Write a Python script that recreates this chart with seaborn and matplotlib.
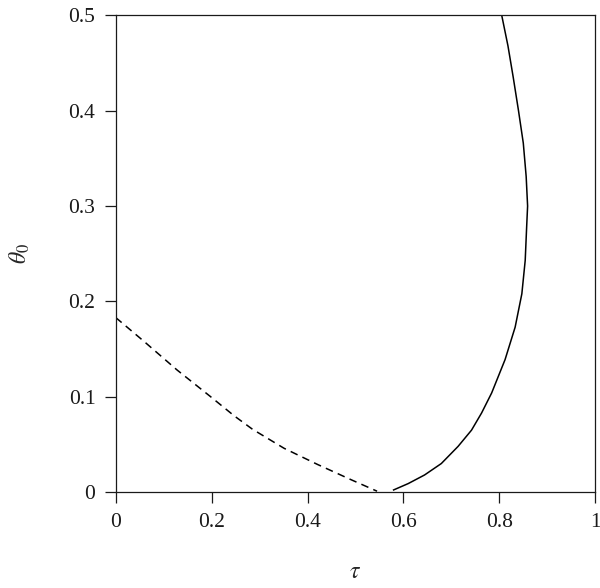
import numpy as np
import matplotlib
matplotlib.use("Agg")
import matplotlib.pyplot as plt
import seaborn as sns

# dashed branch: theta_0 vs tau
tau_dashed = [0.0, 0.059, 0.128, 0.198, 0.247, 0.285, 0.351, 0.421, 0.491, 0.545]
theta_dashed = [0.183, 0.158, 0.128, 0.100, 0.080, 0.066, 0.046, 0.029, 0.013, 0.001]

# solid branch (turns back on itself, so drawn in path order)
tau_solid = [0.578, 0.610, 0.644, 0.679, 0.714, 0.742, 0.763, 0.784, 0.812,
             0.833, 0.847, 0.854, 0.857, 0.859, 0.856, 0.850, 0.840, 0.829,
             0.818, 0.805]
theta_solid = [0.002, 0.009, 0.018, 0.030, 0.048, 0.065, 0.083, 0.104, 0.139,
               0.173, 0.208, 0.243, 0.278, 0.300, 0.331, 0.366, 0.400, 0.435,
               0.468, 0.500]

x_ticks = [0, 0.2, 0.4, 0.6, 0.8, 1]
x_labels = ["0", "0.2", "0.4", "0.6", "0.8", "1"]
y_ticks = [0, 0.1, 0.2, 0.3, 0.4, 0.5]
y_labels = ["0", "0.1", "0.2", "0.3", "0.4", "0.5"]

sns.set_theme(style="ticks")
plt.rcParams["font.family"] = ["Liberation Serif", "DejaVu Serif"]
plt.rcParams["mathtext.fontset"] = "stix"

fig = plt.figure(figsize=(6, 5.88), dpi=100)
ax = fig.add_axes([0.193, 0.163, 0.799, 0.811])

sns.lineplot(x=tau_dashed, y=theta_dashed, sort=False, estimator=None, ax=ax,
             color="black", linewidth=1.1)
ax.lines[-1].set_dashes((5, 3.5))
sns.lineplot(x=tau_solid, y=theta_solid, sort=False, estimator=None, ax=ax,
             color="black", linewidth=1.1)
for ln in ax.lines:
    ln.set_solid_joinstyle("round")
    ln.set_solid_capstyle("butt")

ax.set_xlim(0, 1)
ax.set_ylim(0, 0.5)
ax.set_xticks(x_ticks)
ax.set_xticklabels(x_labels)
ax.set_yticks(y_ticks)
ax.set_yticklabels(y_labels)
ax.tick_params(direction="out", length=7.7, width=0.9, labelsize=15.5,
               colors="#1a1a1a", pad=7)
for s in ax.spines.values():
    s.set_visible(True)
    s.set_linewidth(0.9)
    s.set_color("#1a1a1a")

ax.set_xlabel(r"$\tau$", fontsize=17, labelpad=22)
ax.set_ylabel(r"$\theta_0$", fontsize=17, labelpad=26)

fig.savefig("out.png", dpi=100)
